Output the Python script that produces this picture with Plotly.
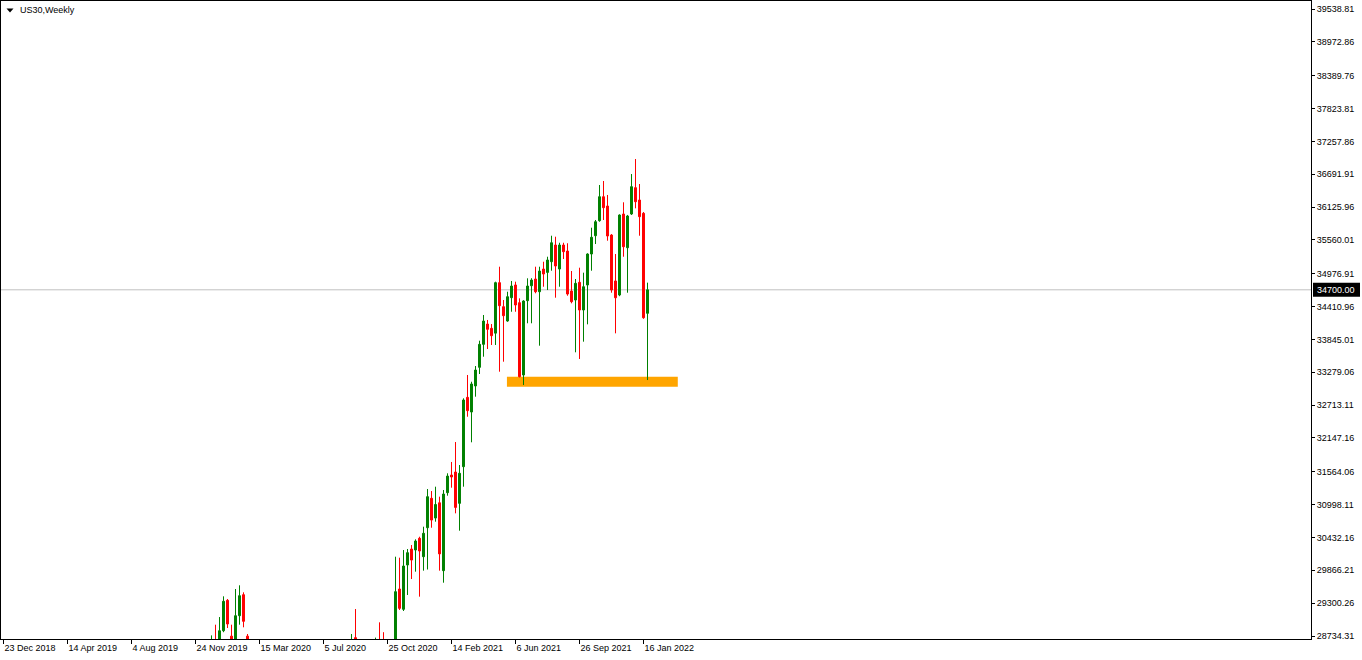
import plotly.graph_objects as go

# ---------------- data (weekly US30 candles) ----------------
week_dates = [
    "2019-12-22", "2019-12-29", "2020-01-05", "2020-01-12", "2020-01-19", "2020-01-26",
    "2020-02-02", "2020-02-09", "2020-02-16", "2020-02-23",
    "2020-08-23", "2020-08-30",
    "2020-10-04", "2020-10-11", "2020-10-18",
    "2020-11-08", "2020-11-15", "2020-11-22", "2020-11-29", "2020-12-06", "2020-12-13",
    "2020-12-20", "2020-12-27", "2021-01-03", "2021-01-10", "2021-01-17", "2021-01-24",
    "2021-01-31", "2021-02-07", "2021-02-14", "2021-02-21", "2021-02-28", "2021-03-07",
    "2021-03-14", "2021-03-21", "2021-03-28", "2021-04-04", "2021-04-11", "2021-04-18",
    "2021-04-25", "2021-05-02", "2021-05-09", "2021-05-16", "2021-05-23", "2021-05-30",
    "2021-06-06", "2021-06-13", "2021-06-20", "2021-06-27", "2021-07-04", "2021-07-11",
    "2021-07-18", "2021-07-25", "2021-08-01", "2021-08-08", "2021-08-15", "2021-08-22",
    "2021-08-29", "2021-09-05", "2021-09-12", "2021-09-19", "2021-09-26", "2021-10-03",
    "2021-10-10", "2021-10-17", "2021-10-24", "2021-10-31", "2021-11-07", "2021-11-14",
    "2021-11-21", "2021-11-28", "2021-12-05", "2021-12-12", "2021-12-19", "2021-12-26",
    "2022-01-02", "2022-01-09", "2022-01-16", "2022-01-23",
]
open_ = [
    28480, 28650, 28620, 28825, 29349, 28732, 28250, 29084, 29446, 28732,
    27800, 28706,
    27700, 28600, 28560,
    28400, 29544, 29194, 29958, 30233, 30216, 30418, 30101, 30600, 31107, 30767, 31030,
    29860, 31204, 31508, 31560, 31020, 31652, 32847, 32594, 33043, 33364, 33760, 34110,
    34036, 33953, 34823, 34409, 34162, 34564, 34783, 34478, 33232, 34512, 34770, 34886,
    34667, 35058, 35000, 35184, 35472, 35058, 35472, 35368, 34679, 34524, 34829, 34352,
    34783, 35317, 35632, 35891, 36304, 36144, 35644, 34852, 34610, 36006, 35425, 36006,
    36460, 36247, 36018, 34295,
]
high = [
    28745, 28929, 29061, 29418, 29372, 28929, 29544, 29608, 29487, 28769,
    28769, 29199,
    28706, 28970, 28800,
    30101, 30084, 30216, 30233, 30302, 30400, 30445, 30618, 31267, 31232, 31307, 31135,
    31250, 31538, 31733, 32077, 31681, 32830, 33232, 33116, 33387, 33823, 34266, 34180,
    34110, 34840, 35098, 34524, 34667, 34852, 34840, 34553, 34520, 34898, 34900, 35098,
    35098, 35184, 35270, 35632, 35615, 35511, 35511, 35502, 35024, 34886, 35081, 34995,
    35329, 35770, 35903, 36506, 36575, 36334, 35660, 35317, 36000, 36208, 35990, 36695,
    36954, 36523, 36040, 34823,
]
low = [
    28420, 28400, 28450, 28800, 28872, 28150, 28150, 28929, 28884, 24680,
    27600, 27600,
    27500, 28200, 28100,
    28300, 29183, 29165, 29441, 29716, 29843, 29412, 29860, 29880, 30600, 30704, 29860,
    29653, 31152, 31290, 30848, 30549, 31307, 32513, 32072, 32858, 33249, 33547, 33680,
    33749, 33749, 33289, 33461, 34150, 34322, 34322, 33190, 33060, 34123, 34123, 34640,
    33737, 34753, 34696, 35029, 34564, 34753, 35231, 34598, 34467, 33623, 33508, 33806,
    34105, 35029, 35489, 35873, 35903, 35546, 34650, 33950, 34590, 35270, 34650, 35990,
    36104, 35632, 34200, 33145,
]
close = [
    28650, 28620, 28825, 29332, 28941, 28250, 29084, 29429, 28987, 25400,
    28650, 28100,
    28580, 28560, 28300,
    29498, 29211, 29940, 30170, 30043, 30371, 30199, 30504, 31135, 30732, 31000, 30149,
    31181, 31490, 31474, 30950, 31538, 32801, 32617, 33077, 33318, 33760, 34162, 34019,
    33909, 34823, 34426, 34254, 34581, 34765, 34438, 33203, 34507, 34765, 34868, 34667,
    35023, 34972, 35213, 35511, 35110, 35472, 35357, 34627, 34495, 34811, 34352, 34753,
    35317, 35605, 35873, 36304, 36115, 35627, 34696, 34563, 35989, 35442, 35972, 36477,
    36218, 35960, 34219, 34700,
]

current_price = 34700.00

# support zone drawn on the chart
zone_start = "2021-05-22"
zone_end = "2022-03-17"
zone_low = 33030
zone_high = 33200

# axis labels
x_tick_dates = ["2018-12-23", "2019-04-14", "2019-08-04", "2019-11-24", "2020-03-15",
                "2020-07-05", "2020-10-25", "2021-02-14", "2021-06-06", "2021-09-26",
                "2022-01-16"]
x_tick_labels = ["23 Dec 2018", "14 Apr 2019", "4 Aug 2019", "24 Nov 2019", "15 Mar 2020",
                 "5 Jul 2020", "25 Oct 2020", "14 Feb 2021", "6 Jun 2021", "26 Sep 2021",
                 "16 Jan 2022"]
y_tick_values = [39538.81, 38972.86, 38389.76, 37823.81, 37257.86, 36691.91, 36125.96,
                 35560.01, 34976.91, 34410.96, 33845.01, 33279.06, 32713.11, 32147.16,
                 31564.06, 30998.11, 30432.16, 29866.21, 29300.26, 28734.31]

title_text = "US30,Weekly"

# ---------------- layout geometry ----------------
W, H = 1362, 660
ML, MR, MT, MB = 1, 51, 1, 21
PW, PH = W - ML - MR, H - MT - MB

x_range = ["2018-12-18 15:00", "2025-03-29 03:00"]
y_range = [28682.6, 39676.7]

FONT = "Tahoma, 'Liberation Sans', Arial, sans-serif"
FS = 9


def px_x(px):
    return (px - ML) / PW


def px_y(py):
    return (H - MB - py) / PH


fig = go.Figure()
fig.add_trace(go.Candlestick(
    x=week_dates, open=open_, high=high, low=low, close=close,
    increasing=dict(line=dict(color="#008000", width=1), fillcolor="#008000"),
    decreasing=dict(line=dict(color="#FF0000", width=1), fillcolor="#FF0000"),
    whiskerwidth=0, hoverinfo="skip", showlegend=False,
))

shapes = [
    dict(type="rect", xref="x", yref="y", x0=zone_start, x1=zone_end, y0=zone_low, y1=zone_high,
         fillcolor="#FFA500", line=dict(width=0), layer="below"),
    dict(type="line", xref="paper", yref="y", x0=0, x1=1, y0=current_price, y1=current_price,
         line=dict(color="#C0C0C0", width=1), layer="below"),
    dict(type="path", xref="paper", yref="paper",
         path=f"M {px_x(6.5)} {px_y(8.5)} L {px_x(13.5)} {px_y(8.5)} L {px_x(10)} {px_y(12.5)} Z",
         fillcolor="black", line=dict(width=0)),
    # price tag background on the right scale
    dict(type="rect", xref="paper", yref="y", x0=px_x(1313), x1=px_x(1360),
         ysizemode="pixel", yanchor=current_price, y0=-7, y1=7,
         fillcolor="black", line=dict(width=0), layer="above"),
]

annotations = [
    dict(xref="paper", yref="paper", x=px_x(18), y=px_y(10.5), xanchor="left", yanchor="middle",
         text=title_text, showarrow=False, font=dict(family=FONT, size=FS, color="black")),
    dict(xref="paper", yref="y", x=px_x(1317), y=current_price, xanchor="left", yanchor="middle",
         text=f"{current_price:.2f}", showarrow=False, borderpad=0, xshift=-1,
         font=dict(family=FONT, size=FS, color="white")),
]

fig.update_layout(
    width=W, height=H,
    margin=dict(l=ML, r=MR, t=MT, b=MB, pad=0, autoexpand=False),
    paper_bgcolor="white", plot_bgcolor="white",
    shapes=shapes, annotations=annotations,
    font=dict(family=FONT, size=FS, color="black"),
    xaxis=dict(
        type="date", range=x_range, rangeslider=dict(visible=False), automargin=False,
        showgrid=False, zeroline=False, showline=True, linecolor="black", linewidth=1, mirror=True,
        ticks="outside", ticklen=4, tickcolor="black", tickwidth=1, tickangle=0,
        tickvals=x_tick_dates, ticktext=x_tick_labels, ticklabelposition="outside right",
        tickfont=dict(family=FONT, size=FS, color="black"),
    ),
    yaxis=dict(
        side="right", range=y_range, automargin=False,
        showgrid=False, zeroline=False, showline=True, linecolor="black", linewidth=1, mirror=True,
        ticks="outside", ticklen=3, tickcolor="black", tickwidth=1,
        tickvals=y_tick_values, ticktext=[f"{v:.2f}" for v in y_tick_values],
        tickfont=dict(family=FONT, size=FS, color="black"),
    ),
)

fig.write_html("out.html", config={"displayModeBar": False},
               post_script="document.body.style.margin='0';document.body.style.overflow='hidden';")
